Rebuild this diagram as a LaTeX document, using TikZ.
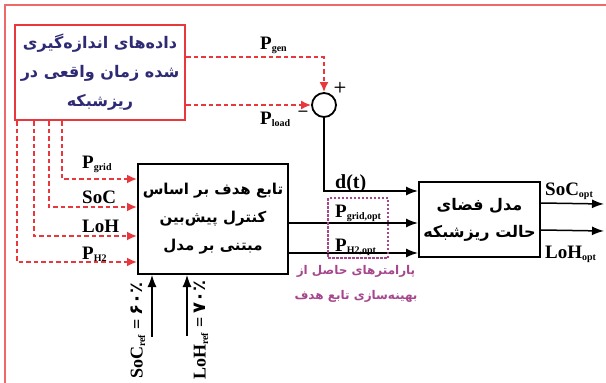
\documentclass[tikz,border=0pt]{standalone}
\usepackage{fontspec}
\setmainfont{Liberation Serif}
\newfontfamily\fa[Script=Arabic]{DejaVu Sans}
\TeXXeTstate=1
\usetikzlibrary{arrows.meta,calc}
\definecolor{myred}{HTML}{E8383D}
\definecolor{framered}{HTML}{EE6A6A}
\definecolor{navy}{HTML}{2E2A74}
\definecolor{mauve}{HTML}{A6478E}
\newcommand{\rl}[1]{\beginR#1\endR}
\newcommand{\sub}[1]{\textsubscript{\fontsize{10}{10}\selectfont #1}}
\begin{document}
\begin{tikzpicture}[x=1pt,y=-1pt,
  redln/.style={draw=myred, line width=1.8pt, dash pattern=on 4.5pt off 3pt, -{Latex[length=10pt,width=9pt]}},
  blkln/.style={draw=black, line width=1.5pt, -{Latex[length=12pt,width=9pt]}},
  blkbox/.style={draw=black, line width=2pt, inner sep=0pt, align=center},
  lab/.style={inner sep=0pt, font=\fontsize{19}{19}\selectfont\bfseries},
  persian/.style={font=\fontsize{15}{28}\selectfont\fa\bfseries, align=center}
]
\useasboundingbox (0,0) rectangle (606,383);
% outer frame
\draw[framered, line width=1.3pt] (5,383) -- (5,5) -- (606,5);

% data box
\node[draw=myred, line width=2.6pt, minimum width=170pt, minimum height=95pt, inner sep=0pt,
      persian, font=\fontsize{16}{29}\selectfont\fa\bfseries, text=navy] (data) at (100,72.5)
  {\rl{داده‌های اندازه‌گیری}\\\rl{شده زمان واقعی در}\\\rl{ریزشبکه}};

% summing junction
\node[draw=black, circle, line width=1.8pt, minimum size=24pt, inner sep=0pt] (sum) at (324,105) {};
\node[inner sep=0pt, font=\fontsize{15}{15}\selectfont\bfseries\sffamily] (plus) at (340,88) {+};
\node[inner sep=0pt, font=\fontsize{17}{17}\selectfont\bfseries\sffamily] (minus) at (303,114) {–};

% MPC box
\node[blkbox, minimum width=150pt, minimum height=110pt, persian, font=\fontsize{15}{28}\selectfont\fa\bfseries] (mpc) at (213,219)
  {\rl{تابع هدف بر اساس}\\\rl{کنترل پیش‌بین}\\\rl{مبتنی بر مدل}};

% state space box
\node[blkbox, minimum width=121pt, minimum height=75pt, persian, font=\fontsize{16}{27}\selectfont\fa\bfseries] (state) at (479.5,219.5)
  {\rl{مدل فضای}\\\rl{حالت ریزشبکه}};

% Pgen and Pload
\coordinate (gen0) at ($(data.east)+(0,-15.5)$);
\draw[redln] (gen0) -| (sum.north);
\draw[redln] (data.east |- sum.west) -- (sum.west);
\node[lab, anchor=base west] (pgen) at (260,49) {P\sub{gen}};
\node[lab, anchor=base west] (pload) at (260,124) {P\sub{load}};

% inputs to MPC
\coordinate (v1) at ($(data.south west)+(48,0)$);
\coordinate (v2) at ($(data.south west)+(35,0)$);
\coordinate (v3) at ($(data.south west)+(20,0)$);
\coordinate (v4) at ($(data.south west)+(3,0)$);
\draw[redln] (v1) |- ($(mpc.north west)+(0,16)$);
\draw[redln] (v2) |- ($(mpc.north west)+(0,44)$);
\draw[redln] (v3) |- ($(mpc.north west)+(0,73)$);
\draw[redln] (v4) |- ($(mpc.north west)+(0,99)$);
\node[lab, anchor=base west] (lpgrid) at (82,168) {P\sub{grid}};
\node[lab, anchor=base west] (lsoc) at (82,203) {SoC};
\node[lab, anchor=base west] (lloh) at (82,232) {LoH};
\node[lab, anchor=base west] (lph2) at (82,259) {P\sub{H2}};

% d(t)
\coordinate (dtin) at ($(state.north west)+(0,10)$);
\draw[blkln] (sum.south) |- (dtin);
\node[lab, font=\fontsize{20}{20}\selectfont\bfseries, anchor=base west] (dt) at (335,188) {d(t)};

% MPC outputs
\coordinate (o1) at ($(mpc.north east)+(0,60)$);
\coordinate (o2) at ($(mpc.north east)+(0,90)$);
\draw[blkln] (o1) -- (state.west |- o1);
\draw[blkln] (o2) -- (state.west |- o2);

% purple dashed box
\node[draw=mauve, line width=1.3pt, dash pattern=on 2.5pt off 1.5pt, minimum width=60pt, minimum height=60pt, inner sep=0pt] (optbox) at (358,228) {};
\node[lab, anchor=base west] (pgo) at (335,217) {P\sub{grid,opt}};
\node[lab, anchor=base west] (pho) at (335,251) {P\sub{H2,opt}};
\node[persian, text=mauve, font=\fontsize{12}{25}\selectfont\fa\bfseries, anchor=north] (optlab) at (356,262)
  {\rl{پارامترهای حاصل از}\\\rl{بهینه‌سازی تابع هدف}};

% state outputs
\coordinate (s1) at ($(state.north east)+(0,22)$);
\coordinate (s2) at ($(state.north east)+(0,49)$);
\coordinate (e1) at (604,204);
\coordinate (e2) at (604,231);
\draw[blkln] (s1) -- (e1);
\draw[blkln] (s2) -- (e2);
\node[lab, anchor=base west] (socopt) at (545,195) {SoC\sub{opt}};
\node[lab, anchor=base west] (lohopt) at (545,258) {LoH\sub{opt}};

% references
\coordinate (sref) at (152,337);
\coordinate (lref) at (187,336);
\draw[blkln, line width=1.2pt] (sref) -- (mpc.south -| sref);
\draw[blkln, line width=1.2pt] (lref) -- (mpc.south -| lref);
\node[lab, font=\fontsize{18}{18}\selectfont\bfseries, rotate=90, anchor=west] (sreflab) at (138,379)
  {SoC\sub{ref} = {\fa ۶۰٪}};
\node[lab, font=\fontsize{18}{18}\selectfont\bfseries, rotate=90, anchor=west] (lreflab) at (201,380)
  {LoH\sub{ref} = {\fa ۷۰٪}};
\end{tikzpicture}
\end{document}
